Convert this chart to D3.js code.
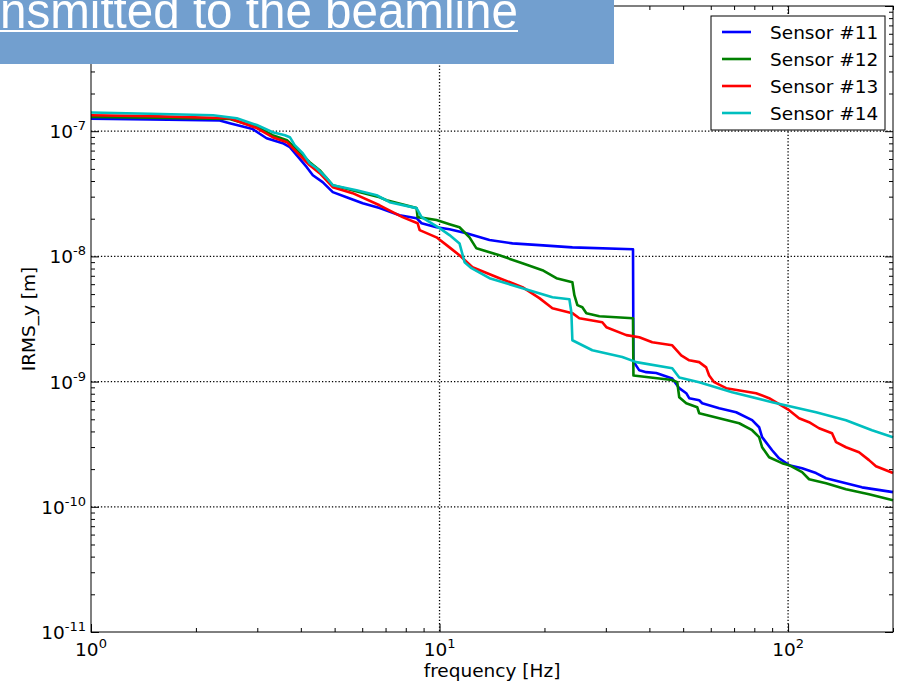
<!DOCTYPE html>
<html>
<head>
<meta charset="utf-8">
<script src="https://cdn.jsdelivr.net/npm/d3@7"></script>
<style>
  body { margin: 0; background: #fff; }
  svg { display: block; }
  text { font-family: "DejaVu Sans", sans-serif; }
</style>
</head>
<body>
<div id="chart"></div>
<script>
// series: [frequency Hz, IRMS_y m]
const sensor11 = [[1, 1.26e-7], [1.48, 1.24e-7], [2.34, 1.22e-7], [2.50, 1.16e-7], [2.91, 1.04e-7], [3.19, 8.79e-8],
  [3.55, 8.02e-8], [3.72, 7.45e-8], [3.89, 6.43e-8], [4.16, 5.16e-8], [4.33, 4.45e-8], [4.62, 3.92e-8], [4.94, 3.26e-8],
  [5.41, 2.97e-8], [6.02, 2.66e-8], [6.73, 2.43e-8], [7.68, 2.13e-8], [8.59, 2.02e-8], [8.88, 1.84e-8], [9.80, 1.71e-8],
  [10.68, 1.65e-8], [11.95, 1.53e-8], [13.91, 1.35e-8], [16.19, 1.27e-8], [19.34, 1.23e-8], [24.05, 1.18e-8],
  [35.9, 1.14e-8], [36.0, 1.45e-9], [37.42, 1.23e-9], [39.18, 1.19e-9], [41.86, 1.17e-9], [46.52, 1.06e-9],
  [48.72, 8.86e-10], [51.03, 8.08e-10], [52.04, 7.37e-10], [55.59, 7.10e-10], [56.70, 6.72e-10], [63.44, 6.13e-10],
  [70.97, 5.69e-10], [78.86, 4.92e-10], [82.59, 4.32e-10], [84.24, 3.60e-10], [90.0, 2.83e-10], [94.24, 2.44e-10],
  [100.7, 2.15e-10], [109.7, 2.03e-10], [120.3, 1.86e-10], [128.5, 1.69e-10], [142.8, 1.57e-10], [162.9, 1.43e-10],
  [200, 1.31e-10]];

const sensor12 = [[1, 1.30e-7], [1.48, 1.28e-7], [2.50, 1.25e-7], [2.99, 1.08e-7], [3.32, 9.29e-8], [3.65, 8.48e-8],
  [3.89, 7.18e-8], [4.24, 5.65e-8], [4.53, 4.88e-8], [4.94, 3.70e-8], [6.73, 2.97e-8], [7.05, 2.81e-8], [8.59, 2.43e-8],
  [8.65, 2.06e-8], [9.80, 1.95e-8], [10.68, 1.81e-8], [11.41, 1.71e-8], [12.19, 1.42e-8], [12.76, 1.16e-8],
  [14.86, 1.02e-8], [17.29, 8.82e-9], [19.73, 7.76e-9], [21.64, 6.70e-9], [24.05, 6.22e-9], [24.37, 4.90e-9],
  [24.86, 4.08e-9], [25.69, 3.93e-9], [26.38, 3.52e-9], [28.74, 3.33e-9], [35.9, 3.21e-9], [36.0, 1.12e-9],
  [46.52, 1.03e-9], [48.08, 9.89e-10], [48.72, 7.50e-10], [51.03, 6.72e-10], [54.87, 6.24e-10], [55.59, 5.59e-10],
  [63.44, 5.10e-10], [72.39, 4.65e-10], [78.86, 4.09e-10], [82.59, 3.60e-10], [84.24, 2.99e-10], [88.23, 2.49e-10],
  [96.12, 2.23e-10], [100.7, 2.15e-10], [109.7, 1.89e-10], [114.9, 1.66e-10], [128.5, 1.54e-10], [146.6, 1.38e-10],
  [170.7, 1.26e-10], [200, 1.13e-10]];

const sensor13 = [[1, 1.34e-7], [1.48, 1.32e-7], [2.50, 1.27e-7], [2.99, 1.06e-7], [3.32, 8.96e-8], [3.65, 8.17e-8],
  [3.89, 6.80e-8], [4.24, 5.35e-8], [4.53, 4.62e-8], [4.94, 3.57e-8], [5.63, 3.20e-8], [6.73, 2.56e-8], [7.83, 2.06e-8],
  [8.65, 1.84e-8], [8.77, 1.62e-8], [9.80, 1.42e-8], [10.68, 1.18e-8], [11.41, 1.02e-8], [12.43, 8.20e-9],
  [14.86, 6.70e-9], [17.29, 5.68e-9], [19.34, 4.64e-9], [21.08, 3.86e-9], [24.05, 3.52e-9], [25.18, 3.21e-9],
  [29.31, 2.98e-9], [30.10, 2.72e-9], [34.35, 2.35e-9], [37.42, 2.26e-9], [40.77, 2.06e-9], [46.52, 1.95e-9],
  [49.36, 1.62e-9], [52.04, 1.48e-9], [55.59, 1.43e-9], [58.21, 1.30e-9], [59.37, 1.12e-9], [61.38, 9.89e-10],
  [66.44, 8.86e-10], [80.97, 8.08e-10], [88.23, 7.37e-10], [100.7, 5.91e-10], [107.5, 5.10e-10], [114.9, 4.74e-10],
  [122.7, 4.24e-10], [133.7, 3.87e-10], [137.3, 3.28e-10], [146.6, 2.99e-10], [159.8, 2.73e-10], [170.7, 2.36e-10],
  [178.7, 2.11e-10], [200, 1.86e-10]];

const sensor14 = [[1, 1.41e-7], [1.48, 1.38e-7], [2.24, 1.34e-7], [2.62, 1.27e-7], [2.99, 1.12e-7], [3.32, 9.82e-8],
  [3.60, 9.29e-8], [3.72, 8.96e-8], [3.84, 7.73e-8], [4.05, 6.67e-8], [4.24, 5.55e-8], [4.44, 5.06e-8], [4.75, 4.21e-8],
  [4.94, 3.70e-8], [5.78, 3.38e-8], [6.60, 3.08e-8], [7.19, 2.71e-8], [8.59, 2.43e-8], [8.88, 2.06e-8], [10, 1.68e-8],
  [10.68, 1.48e-8], [11.41, 1.27e-8], [11.80, 8.99e-9], [12.35, 8.05e-9], [13.91, 6.70e-9], [17.29, 5.57e-9],
  [21.08, 4.72e-9], [23.58, 4.55e-9], [23.89, 3.58e-9], [24.05, 2.14e-9], [27.44, 1.78e-9], [33.45, 1.57e-9],
  [36.69, 1.43e-9], [46.52, 1.28e-9], [48.72, 1.08e-9], [55.59, 9.89e-10], [69.12, 8.23e-10], [90.0, 6.85e-10],
  [120.3, 5.69e-10], [146.6, 4.92e-10], [174.1, 4.09e-10], [200, 3.60e-10]];

const seriesNames = ["Sensor #11", "Sensor #12", "Sensor #13", "Sensor #14"];
const seriesColors = ["#0000ff", "#008000", "#ff0000", "#00bfbf"];
const xTickExps = [0, 1, 2];
const yTickExps = [-11, -10, -9, -8, -7, -6];
const yLabelExps = [-11, -10, -9, -8, -7];
const titleText = "nsmitted to the beamline";

const w = 906, h = 683;
const plotLeft = 91, plotRight = 893, plotTop = 6, plotBottom = 632;
const fs = 18.5, supFs = 13;

const xScale = d3.scaleLog().domain([1, 200]).range([plotLeft, plotRight]);
const yScale = d3.scaleLog().domain([1e-11, 1e-6]).range([plotBottom, plotTop]);

const svg = d3.select("#chart").append("svg")
  .attr("width", w)
  .attr("height", h);

// dotted grid on the decades
svg.append("g").selectAll("line")
  .data(xTickExps.slice(1))
  .enter().append("line")
  .attr("x1", d => xScale(Math.pow(10, d))).attr("x2", d => xScale(Math.pow(10, d)))
  .attr("y1", plotTop).attr("y2", plotBottom)
  .attr("stroke", "#000").attr("stroke-width", 1.3).attr("stroke-dasharray", "1.3,2");

svg.append("g").selectAll("line")
  .data(yTickExps.slice(1, -1))
  .enter().append("line")
  .attr("y1", d => yScale(Math.pow(10, d))).attr("y2", d => yScale(Math.pow(10, d)))
  .attr("x1", plotLeft).attr("x2", plotRight)
  .attr("stroke", "#000").attr("stroke-width", 1.3).attr("stroke-dasharray", "1.3,2");

// ticks pointing inward on all four sides
const xMajor = xTickExps.map(e => Math.pow(10, e));
const xMinor = [];
for (let e = 0; e <= 2; e++) for (let k = 2; k <= 9; k++) { if (k * Math.pow(10, e) <= 200) xMinor.push(k * Math.pow(10, e)); }
const yMajor = yTickExps.map(e => Math.pow(10, e));
const yMinor = [];
for (let e = -11; e < -6; e++) for (let k = 2; k <= 9; k++) yMinor.push(k * Math.pow(10, e));

function addAxis(axisFn, scale, vals, size, transform) {
  svg.append("g")
    .attr("transform", transform)
    .call(axisFn(scale).tickValues(vals).tickSize(size).tickFormat(""))
    .call(g => g.select(".domain").remove())
    .call(g => g.selectAll("line").attr("stroke", "#000"));
}
addAxis(d3.axisBottom, xScale, xMajor, -8, `translate(0,${plotBottom})`);
addAxis(d3.axisBottom, xScale, xMinor, -4, `translate(0,${plotBottom})`);
addAxis(d3.axisTop, xScale, xMajor, -8, `translate(0,${plotTop})`);
addAxis(d3.axisTop, xScale, xMinor, -4, `translate(0,${plotTop})`);
addAxis(d3.axisLeft, yScale, yMajor, -8, `translate(${plotLeft},0)`);
addAxis(d3.axisLeft, yScale, yMinor, -4, `translate(${plotLeft},0)`);
addAxis(d3.axisRight, yScale, yMajor, -8, `translate(${plotRight},0)`);
addAxis(d3.axisRight, yScale, yMinor, -4, `translate(${plotRight},0)`);

// curves
const line = d3.line()
  .x(d => xScale(d[0]))
  .y(d => yScale(d[1]));

const allSeries = [sensor11, sensor12, sensor13, sensor14];
svg.append("g").selectAll("path")
  .data(allSeries)
  .enter().append("path")
  .attr("d", line)
  .attr("fill", "none")
  .attr("stroke", (d, i) => seriesColors[i])
  .attr("stroke-width", 2.6)
  .attr("stroke-linejoin", "round");

// frame
svg.append("rect")
  .attr("x", plotLeft).attr("y", plotTop)
  .attr("width", plotRight - plotLeft).attr("height", plotBottom - plotTop)
  .attr("fill", "none").attr("stroke", "#000").attr("stroke-width", 1);

// tick labels 10^n
const xLab = svg.append("g").selectAll("text")
  .data(xTickExps)
  .enter().append("text")
  .attr("x", d => xScale(Math.pow(10, d)))
  .attr("y", plotBottom + 24)
  .attr("text-anchor", "middle")
  .attr("font-size", fs);
xLab.append("tspan").text("10");
xLab.append("tspan").attr("dy", -8).attr("font-size", supFs).text(d => d);

const yLab = svg.append("g").selectAll("text")
  .data(yLabelExps)
  .enter().append("text")
  .attr("x", plotLeft - 5)
  .attr("y", d => yScale(Math.pow(10, d)) + 7)
  .attr("text-anchor", "end")
  .attr("font-size", fs);
yLab.append("tspan").text("10");
yLab.append("tspan").attr("dy", -8).attr("font-size", supFs).text(d => d);

// axis titles
svg.append("text")
  .attr("x", (plotLeft + plotRight) / 2).attr("y", 677)
  .attr("text-anchor", "middle").attr("font-size", fs)
  .text("frequency [Hz]");

svg.append("text")
  .attr("transform", `translate(35,${(plotTop + plotBottom) / 2}) rotate(-90)`)
  .attr("text-anchor", "middle").attr("font-size", fs)
  .text("IRMS_y [m]");

// legend
const legend = svg.append("g");
legend.append("rect")
  .attr("x", 711).attr("y", 16).attr("width", 174).attr("height", 114)
  .attr("fill", "#fff").attr("stroke", "#000").attr("stroke-width", 1);
const items = legend.selectAll("g.item")
  .data(seriesNames)
  .enter().append("g")
  .attr("transform", (d, i) => `translate(0,${32 + i * 27})`);
items.append("line")
  .attr("x1", 722).attr("x2", 751).attr("y1", 0).attr("y2", 0)
  .attr("stroke", (d, i) => seriesColors[i]).attr("stroke-width", 2.6);
items.append("text")
  .attr("x", 770).attr("y", 7).attr("font-size", fs)
  .text(d => d);

// slide title banner covering the top-left
svg.append("rect")
  .attr("x", 0).attr("y", 0).attr("width", 614).attr("height", 64)
  .attr("fill", "#729fcf");
svg.append("text")
  .attr("x", 0).attr("y", 28)
  .style("font-family", "'Liberation Sans Narrow', 'Liberation Sans', Arial, sans-serif")
  .attr("font-size", 50)
  .attr("fill", "#fff")
  .attr("textLength", 518)
  .attr("lengthAdjust", "spacingAndGlyphs")
  .text(titleText);
svg.append("line")
  .attr("x1", 0).attr("x2", 518).attr("y1", 31).attr("y2", 31)
  .attr("stroke", "#fff").attr("stroke-width", 2);
</script>
</body>
</html>
